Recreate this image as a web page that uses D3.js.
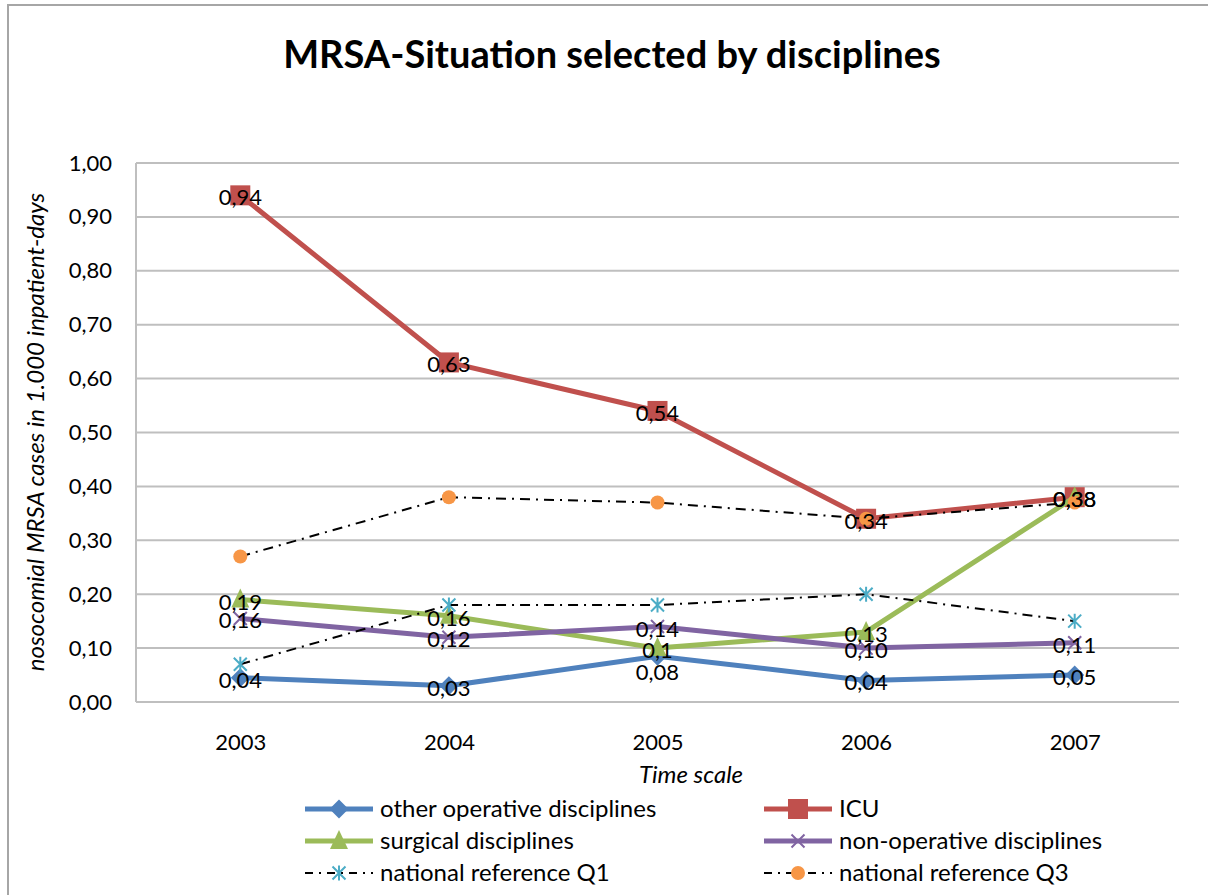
<!DOCTYPE html>
<html><head><meta charset="utf-8">
<script src="https://cdn.jsdelivr.net/npm/d3@7"></script>
<style>
html,body{margin:0;padding:0;background:#fff;}
svg{display:block;}
text{font-family:Lato,"Open Sans",sans-serif;fill:#000;}
</style></head>
<body>
<svg id="chart" width="1208" height="895"></svg>
<script>
const years = ["2003","2004","2005","2006","2007"];
const yTicks = [0,0.1,0.2,0.3,0.4,0.5,0.6,0.7,0.8,0.9,1.0];
const otherOperative = [0.045,0.03,0.085,0.04,0.05];
const icu = [0.94,0.63,0.54,0.34,0.38];
const surgical = [0.19,0.16,0.10,0.13,0.38];
const nonOperative = [0.155,0.12,0.14,0.10,0.11];
const refQ1 = [0.07,0.18,0.18,0.20,0.15];
const refQ3 = [0.27,0.38,0.37,0.34,0.37];
const otherOperativeLabels = ["0,04","0,03","0,08","0,04","0,05"];
const icuLabels = ["0,94","0,63","0,54","0,34","0,38"];
const surgicalLabels = ["0,19","0,16","0,1","0,13","0,38"];
const nonOperativeLabels = ["0,16","0,12","0,14","0,10","0,11"];
const otherOperativeLabelPos = ["c","c","b","c","c"];
const seriesNames = ["other operative disciplines","ICU","surgical disciplines","non-operative disciplines","national reference Q1","national reference Q3"];

const series = [
  {name:seriesNames[0], values:otherOperative, labels:otherOperativeLabels, pos:otherOperativeLabelPos, color:"#4F81BD", marker:"diamond", dashed:false},
  {name:seriesNames[1], values:icu, labels:icuLabels, color:"#C0504D", marker:"square", dashed:false},
  {name:seriesNames[2], values:surgical, labels:surgicalLabels, color:"#9BBB59", marker:"triangle", dashed:false},
  {name:seriesNames[3], values:nonOperative, labels:nonOperativeLabels, color:"#8064A2", marker:"x", dashed:false},
  {name:seriesNames[4], values:refQ1, labels:null, color:"#4BACC6", marker:"star", dashed:true},
  {name:seriesNames[5], values:refQ3, labels:null, color:"#F79646", marker:"circle", dashed:true}
];

const svg = d3.select("#chart");
// chart border
svg.append("rect").attr("x",8).attr("y",5).attr("width",1220).attr("height",910)
  .attr("fill","#fff").attr("stroke","#a6a6a6").attr("stroke-width",2);

const L=136, R=1179, T=163, B=702;
const x = d3.scalePoint().domain(years).range([L,R]).padding(0.5);
const y = d3.scaleLinear().domain([0,1]).range([B,T]);

// title
svg.append("text").attr("x",612).attr("y",68).attr("text-anchor","middle")
  .style("font-size","38px").style("font-weight","bold").text("MRSA-Situation selected by disciplines");

// gridlines
svg.append("g").selectAll("line").data(yTicks).join("line")
  .attr("x1",L).attr("x2",R).attr("y1",d=>y(d)).attr("y2",d=>y(d))
  .attr("stroke","#bfbfbf").attr("stroke-width",2);
// left axis line
svg.append("line").attr("x1",L).attr("x2",L).attr("y1",T).attr("y2",B).attr("stroke","#bfbfbf").attr("stroke-width",2);

// y axis via d3
const yAxis = d3.axisLeft(y).tickValues(yTicks).tickSize(0).tickPadding(24)
  .tickFormat(d=>d3.format(".2f")(d).replace(".",","));
const gy = svg.append("g").attr("transform",`translate(${L},0)`).call(yAxis);
gy.select(".domain").remove();
gy.selectAll("text").style("font-size","22px").style("font-family","Lato,sans-serif").attr("fill","#000");

const xAxis = d3.axisBottom(x).tickSize(0).tickPadding(32);
const gx = svg.append("g").attr("transform",`translate(0,${B})`).call(xAxis);
gx.select(".domain").remove();
gx.selectAll("text").style("font-size","22px").style("font-family","Lato,sans-serif").attr("fill","#000");

// axis titles
svg.append("text").attr("transform","translate(44,432) rotate(-90)").attr("text-anchor","middle")
  .style("font-size","24px").style("font-style","italic").text("nosocomial MRSA cases in 1.000 inpatient-days");
svg.append("text").attr("x",691).attr("y",783).attr("text-anchor","middle")
  .style("font-size","24px").style("font-style","italic").text("Time scale");

function drawMarker(g, type, color, cx, cy, s){
  if(type==="square"){
    g.append("rect").attr("x",cx-s/2).attr("y",cy-s/2).attr("width",s).attr("height",s).attr("fill",color);
  } else if(type==="diamond"){
    const h=s/2+2;
    g.append("path").attr("d",`M${cx},${cy-h}L${cx+h},${cy}L${cx},${cy+h}L${cx-h},${cy}Z`).attr("fill",color);
  } else if(type==="triangle"){
    const h=s/2+1;
    g.append("path").attr("d",`M${cx},${cy-h-2}L${cx+h},${cy+h-1}L${cx-h},${cy+h-1}Z`).attr("fill",color);
  } else if(type==="x"){
    const h=s/2-1;
    g.append("path").attr("d",`M${cx-h},${cy-h}L${cx+h},${cy+h}M${cx-h},${cy+h}L${cx+h},${cy-h}`).attr("stroke",color).attr("stroke-width",2).attr("fill","none");
  } else if(type==="star"){
    const h=s/2-1;
    g.append("path").attr("d",`M${cx-h},${cy-h}L${cx+h},${cy+h}M${cx-h},${cy+h}L${cx+h},${cy-h}M${cx},${cy-h-1}L${cx},${cy+h+1}`).attr("stroke",color).attr("stroke-width",2).attr("fill","none");
  } else if(type==="circle"){
    g.append("circle").attr("cx",cx).attr("cy",cy).attr("r",s/2-1).attr("fill",color);
  }
}
const markerSize = {square:20, diamond:15, triangle:16, x:15, star:15, circle:16};

const line = d3.line().x((d,i)=>x(years[i])).y(d=>y(d));
const plot = svg.append("g");
series.forEach(s=>{
  const g = plot.append("g");
  g.append("path").datum(s.values).attr("d",line).attr("fill","none")
    .attr("stroke", s.dashed ? "#000" : s.color)
    .attr("stroke-width", s.dashed ? 2 : 5)
    .attr("stroke-dasharray", s.dashed ? "10,6,2,6" : null)
    .attr("stroke-linejoin","round");
  s.values.forEach((v,i)=>drawMarker(g, s.marker, s.color, x(years[i]), y(v), markerSize[s.marker]));
});
// data labels
const lbl = svg.append("g");
series.forEach(s=>{
  if(!s.labels) return;
  s.values.forEach((v,i)=>{
    const below = s.pos && s.pos[i]==="b";
    lbl.append("text").attr("x",x(years[i])).attr("y",y(v)+(below?24:10))
      .attr("text-anchor","middle").style("font-size","22px").text(s.labels[i]);
  });
});

// legend
const legendCols=[305,764], legendRows=[809,841,873];
series.forEach((s,k)=>{
  const cx = legendCols[k%2], cy = legendRows[Math.floor(k/2)];
  const g = svg.append("g");
  g.append("line").attr("x1",cx).attr("x2",cx+68).attr("y1",cy).attr("y2",cy)
    .attr("stroke", s.dashed ? "#000" : s.color).attr("stroke-width", s.dashed?2:5)
    .attr("stroke-dasharray", s.dashed ? "8,6,2,6" : null);
  drawMarker(g, s.marker, s.color, cx+34, cy, markerSize[s.marker]);
  g.append("text").attr("x",cx+75).attr("y",cy+8).style("font-size","24px").text(s.name);
});
</script>
</body></html>
